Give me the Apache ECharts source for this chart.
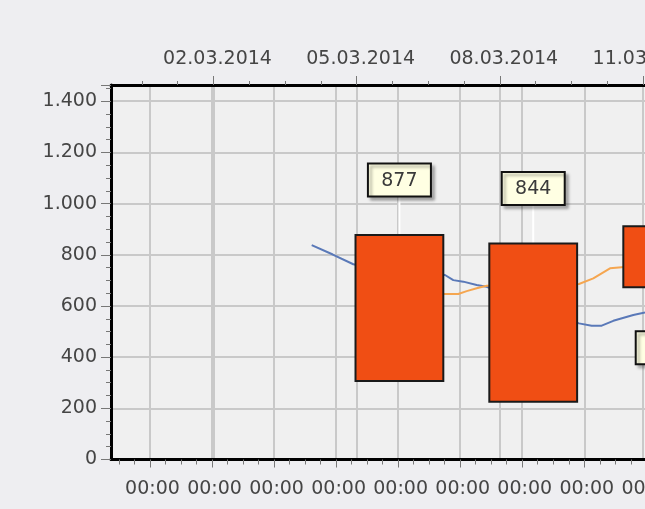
<!DOCTYPE html>
<html>
<head>
<meta charset="utf-8">
<script src="https://cdn.jsdelivr.net/npm/echarts@6/dist/echarts.min.js"></script>
<style>
html, body { margin: 0; padding: 0; background: #eeeef1; }
#chart { width: 645px; height: 509px; }
</style>
</head>
<body>
<div id="chart"></div>
<script>
// ---- data ----
const topTickDays = [2, 5, 8, 11];
const topTickLabels = ['02.03.2014', '05.03.2014', '08.03.2014', '11.03.2014'];
const topMinorDays = [0.5, 1.25, 2.75, 3.5, 4.25, 5.75, 6.5, 7.25, 8.75, 9.5, 10.25, 11.75];
const bottomTicks = [0, 1, 2, 3, 4, 5, 6, 7, 8];
const bottomTickLabels = ['00:00', '00:00', '00:00', '00:00', '00:00', '00:00', '00:00', '00:00', '00:00'];
const bottomMinorTicks = [-0.5, -0.25, 0.25, 0.5, 0.75, 1.25, 1.5, 1.75, 2.25, 2.5, 2.75, 3.25, 3.5, 3.75,
  4.25, 4.5, 4.75, 5.25, 5.5, 5.75, 6.25, 6.5, 6.75, 7.25, 7.5, 7.75, 8.25, 8.5];

const barDays = [5.896, 8.70, 11.508];
const barOpen = [307, 226, 912];
const barClose = [877, 844, 673];

const blueDays = [4.058, 4.50, 4.93, 5.40, 5.90, 6.40, 6.851, 7.025, 7.235, 7.515, 7.725, 8.20, 8.70, 9.20, 9.659, 9.925, 10.135, 10.378, 10.797, 11.042, 11.40];
const blueValues = [838, 801, 763, 745, 735, 728, 721, 701, 695, 682, 675, 640, 600, 560, 532, 523, 523, 542, 565, 575, 590];

const orangeDays = [6.20, 6.50, 6.851, 7.130, 7.306, 7.515, 7.725, 8.20, 8.70, 9.20, 9.659, 9.959, 10.309, 10.554, 11.00];
const orangeValues = [652, 649, 647, 647, 658, 669, 679, 681, 683, 685, 686, 708, 747, 751, 758];

// ---- helpers / layout constants ----
const X_MIN = -0.148, X_MAX = 11.8806;
const B_MIN = -0.6286, B_MAX = 8.6235;
const BAR_W = 1.84;
const FONT = '"DejaVu Sans", sans-serif';
const TXT = '#454545';

function fmtNum(v) {
  if (v >= 1000) {
    const r = v % 1000;
    return Math.floor(v / 1000) + '.' + String(r).padStart(3, '0');
  }
  return String(v);
}

const chart = echarts.init(document.getElementById('chart'), null, { renderer: 'canvas' });

const gridLine = { show: true, lineStyle: { color: '#c9c9c9', width: 2 } };

chart.setOption({
  backgroundColor: '#eeeef1',
  animation: false,
  grid: {
    left: 111, top: 85, right: -40, bottom: 49.5,
    show: true, backgroundColor: '#f0f0f0', borderWidth: 0,
    outerBoundsMode: 'none', containLabel: false
  },
  xAxis: [
    {
      type: 'value', position: 'top', min: X_MIN, max: X_MAX,
      axisLine: { show: true, onZero: false, lineStyle: { color: '#000', width: 3 } },
      axisTick: { show: true, customValues: topTickDays, length: 9, lineStyle: { color: '#777', width: 1 } },
      axisLabel: {
        show: true, customValues: topTickDays, margin: 16, padding: [0, 0, 0, 8],
        color: TXT, fontFamily: FONT, fontSize: 19,
        formatter: (v) => { const i = topTickDays.indexOf(Math.round(v)); return i >= 0 ? topTickLabels[i] : ''; }
      },
      splitLine: gridLine
    },
    {
      type: 'value', position: 'top', min: X_MIN, max: X_MAX,
      axisLine: { show: false, onZero: false },
      axisTick: { show: true, customValues: topMinorDays, length: 4, lineStyle: { color: '#777', width: 1 } },
      axisLabel: { show: false },
      splitLine: { show: false }
    },
    {
      type: 'value', position: 'bottom', min: B_MIN, max: B_MAX,
      axisLine: { show: true, onZero: false, lineStyle: { color: '#000', width: 3 } },
      axisTick: { show: true, customValues: bottomTicks, length: 8, lineStyle: { color: '#777', width: 1 } },
      axisLabel: {
        show: true, customValues: bottomTicks, margin: 20, padding: [0, 0, 0, 5],
        color: TXT, fontFamily: FONT, fontSize: 19,
        formatter: (v) => { const i = bottomTicks.indexOf(Math.round(v)); return i >= 0 ? bottomTickLabels[i] : ''; }
      },
      splitLine: gridLine
    },
    {
      type: 'value', position: 'bottom', min: B_MIN, max: B_MAX,
      axisLine: { show: false, onZero: false },
      axisTick: { show: true, customValues: bottomMinorTicks, length: 5, lineStyle: { color: '#777', width: 1 } },
      axisLabel: { show: false },
      splitLine: { show: false }
    }
  ],
  yAxis: {
    type: 'value', min: 0, max: 1463.5, interval: 200,
    axisLine: { show: true, onZero: false, lineStyle: { color: '#000', width: 3 } },
    axisTick: { show: true, length: 10, lineStyle: { color: '#777', width: 1 } },
    minorTick: { show: true, splitNumber: 4, length: 5, lineStyle: { color: '#777', width: 1 } },
    axisLabel: {
      margin: 14, color: TXT, fontFamily: FONT, fontSize: 19,
      formatter: (v) => (Math.abs(v % 200) < 1e-6 ? fmtNum(v) : '')
    },
    splitLine: gridLine
  },
  series: [
    {
      type: 'line', xAxisIndex: 0, yAxisIndex: 0, z: 2,
      data: blueDays.map((d, i) => [d, blueValues[i]]),
      showSymbol: false, symbol: 'none',
      lineStyle: { color: '#5a79b8', width: 2 }
    },
    {
      type: 'line', xAxisIndex: 0, yAxisIndex: 0, z: 2,
      data: orangeDays.map((d, i) => [d, orangeValues[i]]),
      showSymbol: false, symbol: 'none',
      lineStyle: { color: '#f5a650', width: 2 }
    },
    {
      type: 'custom', xAxisIndex: 0, yAxisIndex: 0, z: 5,
      data: barDays.map((d, i) => [d, barOpen[i], barClose[i]]),
      renderItem: function (params, api) {
        const d = api.value(0), o = api.value(1), c = api.value(2);
        const hi = Math.max(o, c), lo = Math.min(o, c);
        const p1 = api.coord([d - BAR_W / 2, hi]);
        const p2 = api.coord([d + BAR_W / 2, lo]);
        const cx = api.coord([d, hi])[0];
        const up = c >= o;
        const boxW = 63, boxH = 33;
        let boxY, ly1, ly2;
        if (up) {
          boxY = p1[1] - 38.5 - boxH;
          ly1 = boxY + boxH; ly2 = p1[1];
        } else {
          boxY = p2[1] + 44;
          ly1 = p2[1]; ly2 = boxY;
        }
        return {
          type: 'group',
          children: [
            { type: 'line', shape: { x1: cx, y1: ly1, x2: cx, y2: ly2 }, style: { stroke: '#ffffff', lineWidth: 2 } },
            { type: 'rect', shape: { x: p1[0], y: p1[1], width: p2[0] - p1[0], height: p2[1] - p1[1] },
              style: { fill: '#f04e14', stroke: '#1a1a1a', lineWidth: 2 } },
            { type: 'rect', shape: { x: cx - boxW / 2, y: boxY, width: boxW, height: boxH },
              style: { fill: '#ffffe3', stroke: '#111', lineWidth: 2, shadowBlur: 3, shadowOffsetX: 3, shadowOffsetY: 3, shadowColor: 'rgba(0,0,0,0.3)' } },
            { type: 'text', x: cx, y: boxY + boxH / 2 + 1,
              style: { text: String(c), fill: '#3a3a3a', font: '19px ' + FONT, align: 'center', verticalAlign: 'middle' } }
          ]
        };
      }
    }
  ]
});
</script>
</body>
</html>
